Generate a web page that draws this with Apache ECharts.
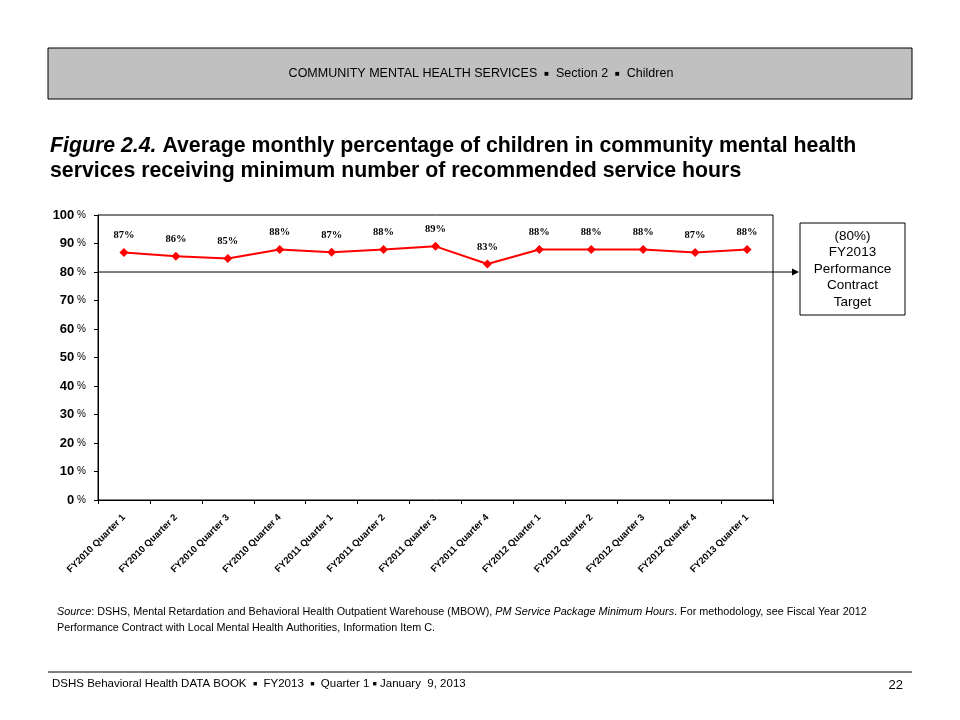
<!DOCTYPE html>
<html>
<head>
<meta charset="utf-8">
<script src="https://cdn.jsdelivr.net/npm/echarts@6/dist/echarts.min.js"></script>
<style>html,body{margin:0;padding:0;background:#fff}#c{width:960px;height:720px}</style>
</head>
<body>
<div id="c"></div>
<script>
var categories = ['FY2010 Quarter 1','FY2010 Quarter 2','FY2010 Quarter 3','FY2010 Quarter 4',
  'FY2011 Quarter 1','FY2011 Quarter 2','FY2011 Quarter 3','FY2011 Quarter 4',
  'FY2012 Quarter 1','FY2012 Quarter 2','FY2012 Quarter 3','FY2012 Quarter 4','FY2013 Quarter 1'];
var percentServed = [86.8, 85.5, 84.7, 87.9, 86.9, 87.9, 89.0, 82.8, 87.9, 87.9, 87.9, 86.8, 87.9];
var targetValue = 80;
var yTicks = [0, 10, 20, 30, 40, 50, 60, 70, 80, 90, 100];
var targetLines = ['(80%)', 'FY2013', 'Performance', 'Contract', 'Target'];

var chart = echarts.init(document.getElementById('c'), null, {renderer: 'canvas'});
var F = 'Arial, "Liberation Sans", sans-serif';

var option = {
  backgroundColor: '#fff',
  animation: false,
  grid: {left: 98, right: 187, top: 215, bottom: 220, show: true, borderColor: '#000', borderWidth: 1, backgroundColor: 'transparent'},
  xAxis: {
    type: 'category', data: categories, boundaryGap: true,
    axisLine: {lineStyle: {color: '#000', width: 1}},
    axisTick: {show: true, inside: false, length: 4, lineStyle: {color: '#000'}},
    axisLabel: {interval: 0, rotate: 45, margin: 16, fontFamily: F, fontWeight: 'bold', fontSize: 9.5, color: '#000'}
  },
  yAxis: {
    type: 'value', min: yTicks[0], max: yTicks[yTicks.length - 1], interval: 10,
    axisLine: {show: true, lineStyle: {color: '#000', width: 1}},
    axisTick: {show: true, inside: false, length: 4, lineStyle: {color: '#000'}},
    splitLine: {show: false},
    axisLabel: {
      margin: 12, color: '#000',
      formatter: function (v) { return '{n|' + v + '}{p| %}'; },
      rich: {
        n: {fontFamily: F, fontWeight: 'bold', fontSize: 13, color: '#000'},
        p: {fontFamily: F, fontSize: 10, color: '#000'}
      }
    }
  },
  series: [{
    type: 'line', data: percentServed,
    symbol: 'diamond', symbolSize: 9,
    lineStyle: {color: '#ff0000', width: 2},
    itemStyle: {color: '#ff0000'},
    label: {
      show: true, position: 'top', distance: 7,
      fontFamily: '"Liberation Serif", "Times New Roman", serif', fontWeight: 'bold', fontSize: 10.5, color: '#000',
      formatter: function (p) { return Math.round(p.value) + '%'; }
    }
  }]
};
chart.setOption(option);

var ty = chart.convertToPixel({yAxisIndex: 0}, targetValue);
var boxX = 800, boxY = 223, boxW = 105, boxH = 92;

var graphics = [
  {type: 'rect', shape: {x: 48, y: 48, width: 864, height: 51}, style: {fill: '#c0c0c0', stroke: '#000', lineWidth: 1}},
  {type: 'text', x: 481, y: 74, style: {
    text: '{t|COMMUNITY MENTAL HEALTH SERVICES  }{b|■}{t|  Section 2  }{b|■}{t|  Children}',
    align: 'center', verticalAlign: 'middle',
    rich: {t: {fontFamily: F, fontSize: 12.5, fill: '#000'}, b: {fontFamily: F, fontSize: 8, fill: '#000'}}
  }},
  {type: 'text', x: 50, y: 146, style: {
    text: '{i|Figure 2.4.}{n| Average monthly percentage of children in community mental health}',
    verticalAlign: 'middle',
    rich: {i: {fontFamily: F, fontSize: 21.3, fontWeight: 'bold', fontStyle: 'italic', fill: '#000'},
           n: {fontFamily: F, fontSize: 21.3, fontWeight: 'bold', fill: '#000'}}
  }},
  {type: 'text', x: 50, y: 171, style: {
    text: 'services receiving minimum number of recommended service hours',
    verticalAlign: 'middle', font: 'bold 21.3px ' + F, fill: '#000'
  }},
  {type: 'line', shape: {x1: 98, y1: ty, x2: boxX - 6, y2: ty}, style: {stroke: '#000', lineWidth: 1}},
  {type: 'polygon', shape: {points: [[boxX - 1, ty], [boxX - 8, ty - 3.5], [boxX - 8, ty + 3.5]]}, style: {fill: '#000'}},
  {type: 'rect', shape: {x: boxX, y: boxY, width: boxW, height: boxH}, style: {fill: '#fff', stroke: '#000', lineWidth: 1}},
  {type: 'text', x: boxX + boxW / 2, y: boxY + boxH / 2, style: {
    text: targetLines.join('\n'), align: 'center', verticalAlign: 'middle',
    font: '13.5px ' + F, lineHeight: 16.5, fill: '#000'
  }},
  {type: 'text', x: 57, y: 612, style: {
    text: '{i|Source}{n|: DSHS, Mental Retardation and Behavioral Health Outpatient Warehouse (MBOW), }{i|PM Service Package Minimum Hours}{n|. For methodology, see Fiscal Year 2012}',
    verticalAlign: 'middle',
    rich: {i: {fontFamily: F, fontSize: 10.8, fontStyle: 'italic', fill: '#000'}, n: {fontFamily: F, fontSize: 10.8, fill: '#000'}}
  }},
  {type: 'text', x: 57, y: 628, style: {
    text: 'Performance Contract with Local Mental Health Authorities, Information Item C.',
    verticalAlign: 'middle', font: '10.8px ' + F, fill: '#000'
  }},
  {type: 'line', shape: {x1: 48, y1: 672, x2: 912, y2: 672}, style: {stroke: '#000', lineWidth: 1}},
  {type: 'text', x: 52, y: 684, style: {
    text: '{t|DSHS Behavioral Health DATA BOOK  }{b|■}{t|  FY2013  }{b|■}{t|  Quarter 1 }{b|■}{t| January  9, 2013}',
    verticalAlign: 'middle',
    rich: {t: {fontFamily: F, fontSize: 11.5, fill: '#000'}, b: {fontFamily: F, fontSize: 7, fill: '#000'}}
  }},
  {type: 'text', x: 903, y: 685, style: {text: '22', align: 'right', verticalAlign: 'middle', font: '13px ' + F, fill: '#000'}}
];
chart.setOption({graphic: graphics});
</script>
</body>
</html>
